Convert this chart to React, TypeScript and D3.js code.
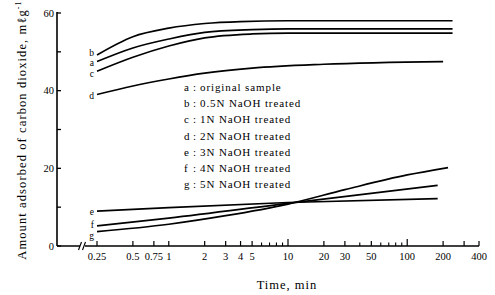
import * as d3 from "d3";

// ---- data ----
const aTime = [0.25, 0.5, 1, 2, 5, 10, 240];
const aValue = [47.5, 51.0, 53.3, 55.0, 55.7, 55.9, 55.9];
const bTime = [0.25, 0.5, 1, 2, 4, 10, 240];
const bValue = [49.2, 53.9, 56.1, 57.3, 57.8, 58.0, 58.0];
const cTime = [0.25, 0.5, 1, 2, 5, 10, 240];
const cValue = [45.0, 48.6, 51.5, 53.6, 54.6, 54.8, 54.8];
const dTime = [0.25, 0.5, 1, 2, 5, 20, 200];
const dValue = [39.0, 41.2, 43.0, 44.5, 45.8, 46.8, 47.5];
const eTime = [0.25, 1, 10, 180];
const eValue = [9.0, 9.9, 11.2, 12.2];
const fTime = [0.25, 1, 10, 180];
const fValue = [5.2, 7.2, 11.0, 15.6];
const gTime = [0.25, 1, 3, 10, 30, 100, 220];
const gValue = [3.7, 5.6, 7.8, 10.8, 14.5, 18.3, 20.2];

const seriesKeys = ["a", "b", "c", "d", "e", "f", "g"];
const legendTexts = [
  "original sample",
  "0.5N NaOH treated",
  "1N NaOH treated",
  "2N NaOH treated",
  "3N NaOH treated",
  "4N NaOH treated",
  "5N NaOH treated",
];

const yTicks = [0, 10, 20, 30, 40, 50, 60];
const yTickLabels = ["0", "", "20", "", "40", "", "60"];
const xMajor = [0.25, 0.5, 0.75, 1, 2, 3, 4, 5, 10, 20, 30, 50, 100, 200, 300, 400];
const xMinor = [6, 7, 8, 9, 40, 60, 70, 80, 90];
const xLabelled = ["0.25", "0.5", "0.75", "1", "2", "3", "4", "5", "10", "20", "30", "50", "100", "200", "400"];

const font = "Liberation Serif, serif";

export default function App() {
  const W = 495;
  const H = 295;
  const axisX = 57;
  const axisY = 246;

  const x = d3.scaleLog().domain([0.25, 400]).range([97, 479]);
  const y = d3.scaleLinear().domain([0, 60]).range([axisY, 13]);

  const all = [
    { key: "a", t: aTime, v: aValue },
    { key: "b", t: bTime, v: bValue },
    { key: "c", t: cTime, v: cValue },
    { key: "d", t: dTime, v: dValue },
    { key: "e", t: eTime, v: eValue },
    { key: "f", t: fTime, v: fValue },
    { key: "g", t: gTime, v: gValue },
  ];

  const line = d3
    .line<[number, number]>()
    .x((d) => x(d[0]))
    .y((d) => y(d[1]))
    .curve(d3.curveMonotoneX);

  // little nudges for the crowded curve letters
  const labelDy: { [k: string]: number } = { a: 1.9, b: -2.4, c: 2.7, d: 1, e: 1, f: -1, g: 4 };

  return (
    <svg
      width={W}
      height={H}
      style={{ position: "fixed", left: 0, top: 0, background: "#fff" }}
      fontFamily={font}
    >
      {/* axes */}
      <line x1={axisX} x2={axisX} y1={y(60) - 1} y2={axisY} stroke="#000" strokeWidth={1.6} />
      <line x1={axisX} x2={x(400)} y1={axisY} y2={axisY} stroke="#000" strokeWidth={1.6} />

      {/* axis break */}
      <rect x={80} y={axisY - 4} width={5} height={8} fill="#fff" />
      <line x1={78.5} y1={axisY + 4} x2={81.5} y2={axisY - 4} stroke="#000" strokeWidth={1.2} />
      <line x1={82.5} y1={axisY + 4} x2={85.5} y2={axisY - 4} stroke="#000" strokeWidth={1.2} />

      {/* y ticks */}
      {yTicks.map((t, i) => (
        <g key={"y" + t}>
          <line x1={axisX} x2={axisX + 4} y1={y(t)} y2={y(t)} stroke="#000" strokeWidth={1.3} />
          <text x={axisX - 3} y={y(t) + 3.5} fontSize={10.5} textAnchor="end">
            {yTickLabels[i]}
          </text>
        </g>
      ))}

      {/* x ticks */}
      {xMajor.map((t) => (
        <line
          key={"xm" + t}
          x1={x(t)}
          x2={x(t)}
          y1={axisY}
          y2={axisY - (t === 10 || t === 100 ? 7 : 5)}
          stroke="#000"
          strokeWidth={1.2}
        />
      ))}
      {xMinor.map((t) => (
        <line key={"xn" + t} x1={x(t)} x2={x(t)} y1={axisY} y2={axisY - 3.5} stroke="#000" strokeWidth={1.1} />
      ))}
      {xMajor
        .filter((t) => t !== 300)
        .map((t, i) => (
          <text key={"xl" + t} x={x(t)} y={axisY + 14} fontSize={10.5} textAnchor="middle">
            {xLabelled[i]}
          </text>
        ))}

      {/* axis titles */}
      <text x={287} y={289} fontSize={12.5} textAnchor="middle" letterSpacing={1}>
        Time, min
      </text>
      <text
        transform="translate(26,130) rotate(-90)"
        fontSize={12.5}
        textAnchor="middle"
        letterSpacing={1.1}
      >
        Amount adsorbed of carbon dioxide, mℓg
        <tspan dy={-5} fontSize={8}>-1</tspan>
      </text>

      {/* curves */}
      {all.map((s) => (
        <g key={s.key}>
          <path
            d={line(s.t.map((t, i) => [t, s.v[i]] as [number, number])) || ""}
            fill="none"
            stroke="#000"
            strokeWidth={1.7}
          />
          <text
            x={x(s.t[0]) - 3}
            y={y(s.v[0]) + 3 + labelDy[s.key]}
            fontSize={9.5}
            textAnchor="end"
          >
            {s.key}
          </text>
        </g>
      ))}

      {/* legend */}
      {seriesKeys.map((k, i) => (
        <g key={"lg" + k} fontSize={11} letterSpacing={0.9}>
          <text x={184} y={91 + i * 16.2}>{k}</text>
          <text x={193} y={91 + i * 16.2}>:</text>
          <text x={200} y={91 + i * 16.2}>{legendTexts[i]}</text>
        </g>
      ))}
    </svg>
  );
}
